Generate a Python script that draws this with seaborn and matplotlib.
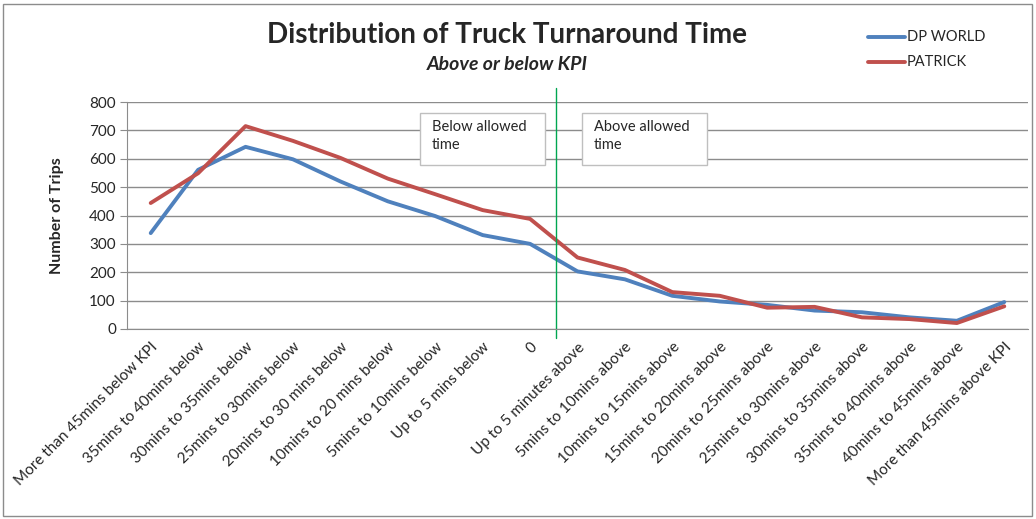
import numpy as np
import matplotlib
matplotlib.use("Agg")
import matplotlib.pyplot as plt
import seaborn as sns
import pandas as pd
from matplotlib.patches import Rectangle

# categories along the x axis
categories = [
    "More than 45mins below KPI", "35mins to 40mins below", "30mins to 35mins below",
    "25mins to 30mins below", "20mins to 30 mins below", "10mins to 20 mins below",
    "5mins to 10mins below", "Up to 5 mins below", "0", "Up to 5 minutes above",
    "5mins to 10mins above", "10mins to 15mins above", "15mins to 20mins above",
    "20mins to 25mins above", "25mins to 30mins above", "30mins to 35mins above",
    "35mins to 40mins above", "40mins to 45mins above", "More than 45mins above KPI",
]
dp_world = [338, 561, 642, 598, 520, 450, 398, 331, 300, 203, 175, 117, 97, 85, 65, 59, 41, 29, 95]
patrick = [444, 549, 715, 663, 603, 530, 475, 419, 388, 252, 208, 130, 117, 75, 78, 41, 35, 21, 80]
y_ticks = list(range(0, 900, 100))

sns.set_style("white")
plt.rcParams['font.family'] = ['Lato', 'DejaVu Sans']

data = pd.DataFrame({
    'pos': list(range(len(categories))) * 2,
    'Trips': dp_world + patrick,
    'Port': ['DP WORLD'] * len(categories) + ['PATRICK'] * len(categories),
})

fig = plt.figure(figsize=(10.36, 5.19), dpi=100)
ax = fig.add_axes([127 / 1036, 1 - 329 / 519, (1028 - 127) / 1036, (329 - 102) / 519])

sns.lineplot(data=data, x='pos', y='Trips', hue='Port', ax=ax,
             palette={'DP WORLD': '#4F81BD', 'PATRICK': '#C0504D'},
             linewidth=2.8, legend=False)

ax.set_xlim(-0.5, len(categories) - 0.5)
ax.set_ylim(0, 800)
ax.set_yticks(y_ticks)
ax.set_yticklabels([str(v) for v in y_ticks], fontsize=11)
ax.yaxis.grid(True, color='#8c8c8c', linewidth=1)
ax.set_axisbelow(True)

ax.set_xticks(range(len(categories)))
ax.set_xticklabels(categories, rotation=45, ha='right', rotation_mode='anchor', fontsize=11)
ax.set_xticks(np.arange(-0.5, len(categories)), minor=True)
ax.tick_params(axis='x', which='major', length=0, pad=8)
ax.tick_params(axis='x', which='minor', length=5, color='#8c8c8c', direction='out')
ax.tick_params(axis='y', length=5, color='#8c8c8c', direction='out', left=True, pad=3)

for side in ['top', 'right']:
    ax.spines[side].set_visible(False)
for side in ['left', 'bottom']:
    ax.spines[side].set_color('#8c8c8c')

ax.set_xlabel('')
ax.set_ylabel('Number of Trips', fontsize=11.5, fontweight='bold', labelpad=18)

# KPI divider
ax.plot([8.55, 8.55], [-0.04, 1.062], color='#00A651', linewidth=1,
        transform=ax.get_xaxis_transform(), clip_on=False)

# annotation boxes
for x0, txt in [(420, 'Below allowed\ntime'), (582, 'Above allowed\ntime')]:
    bx = (x0 - 127) / 901
    box = Rectangle((bx, (329 - 165) / 227), 125 / 901, 52 / 227, transform=ax.transAxes,
                    facecolor='white', edgecolor='#bfbfbf', linewidth=1, zorder=5)
    ax.add_patch(box)
    ax.text(bx + 12 / 901, (329 - 120) / 227, txt, transform=ax.transAxes, fontsize=10.5,
            va='top', ha='left', zorder=6, linespacing=1.4)

fig.text(507 / 1036, 1 - 35 / 519, 'Distribution of Truck Turnaround Time',
         fontsize=20, fontweight='bold', ha='center', va='center')
fig.text(507 / 1036, 1 - 65 / 519, 'Above or below KPI',
         fontsize=14, fontweight='bold', style='italic', ha='center', va='center')

# legend
for yy, name, col in [(37, 'DP WORLD', '#4F81BD'), (62, 'PATRICK', '#C0504D')]:
    fig.lines.append(plt.Line2D([868 / 1036, 905 / 1036], [1 - yy / 519] * 2,
                                color=col, linewidth=2.8, transform=fig.transFigure))
    fig.text(907 / 1036, 1 - yy / 519, name, fontsize=10.5, ha='left', va='center')

# chart border
fig.patches.append(Rectangle((3 / 1036, 3 / 519), 1029 / 1036, 512 / 519,
                             transform=fig.transFigure, fill=False,
                             edgecolor='#8c8c8c', linewidth=1))

fig.savefig('out.png', dpi=100)
